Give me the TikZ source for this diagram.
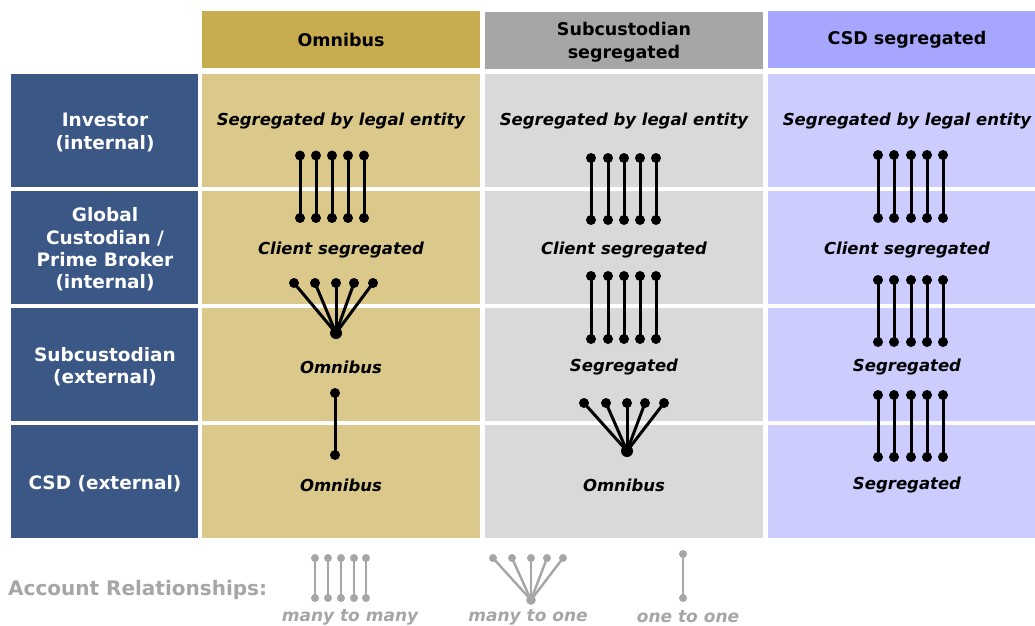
\documentclass[tikz,border=0pt]{standalone}
\usepackage{fontspec}
\setmainfont{DejaVu Sans}
\definecolor{rowblue}{RGB}{58,87,134}
\definecolor{goldH}{RGB}{200,173,80}
\definecolor{goldB}{RGB}{219,201,139}
\definecolor{greyH}{RGB}{166,166,166}
\definecolor{greyB}{RGB}{217,217,217}
\definecolor{violH}{RGB}{166,166,255}
\definecolor{violB}{RGB}{204,204,255}
\definecolor{legendgrey}{RGB}{166,166,166}
\tikzset{
  cell/.style={draw=none, inner sep=0pt, minimum width=278pt, minimum height=113pt, anchor=north west},
  headcell/.style={cell, minimum height=57pt},
  headtext/.style={inner sep=0pt, align=center, font=\fontsize{17.5}{23}\selectfont\bfseries, text=black},
  leftcell/.style={cell, fill=rowblue, minimum width=187pt},
  lefttext/.style={inner sep=0pt, align=center, text=white, font=\fontsize{18.5}{22.3}\selectfont\bfseries},
  rowtext/.style={inner sep=0pt, font=\fontsize{16.5}{20}\selectfont\bfseries\itshape, text=black},
  link/.style={line width=3pt, black},
  dotr/.style={black},
  leglink/.style={line width=2.4pt, legendgrey},
  legtext/.style={inner sep=0pt, font=\fontsize{17}{20}\selectfont\bfseries\itshape, text=legendgrey}
}
\begin{document}
\begin{tikzpicture}[x=1pt,y=-1pt]
\clip (0,0) rectangle (1035,625);
\fill[white] (0,0) rectangle (1035,625);

% header cells
\node[headcell, fill=goldH] (h1) at (202,11) {};
\node[headcell, fill=greyH] (h2) at (485,12) {};
\node[headcell, fill=violH] (h3) at (768,11) {};
\node[headtext] (h1t) at (341,40) {Omnibus};
\node[headtext] (h2t) at (624,42) {Subcustodian\\segregated};
\node[headtext] (h3t) at (907,40) {CSD segregated};

% left labels
\node[leftcell] (l1) at (11,74) {};
\node[leftcell] (l2) at (11,191) {};
\node[leftcell] (l3) at (11,308) {};
\node[leftcell] (l4) at (11,425) {};
\node[lefttext] (l1t) at (105,132.5) {Investor\\(internal)};
\node[lefttext] (l2t) at (105,249.5) {Global\\Custodian /\\Prime Broker\\(internal)};
\node[lefttext] (l3t) at (105,366.5) {Subcustodian\\(external)};
\node[lefttext] (l4t) at (105,484) {CSD (external)};

% body cells
\foreach \r/\y in {1/74,2/191,3/308,4/425}{
  \node[cell, fill=goldB] (a\r) at (202,\y) {};
  \node[cell, fill=greyB] (b\r) at (485,\y) {};
  \node[cell, fill=violB] (c\r) at (768,\y) {};
}

% row texts
\node[rowtext] (ta1) at (341,121.5) {Segregated by legal entity};
\node[rowtext] (tb1) at (624,121.5) {Segregated by legal entity};
\node[rowtext] (tc1) at (907,121.5) {Segregated by legal entity};
\node[rowtext] (ta2) at (341,250) {Client segregated};
\node[rowtext] (tb2) at (624,250) {Client segregated};
\node[rowtext] (tc2) at (907,250) {Client segregated};
\node[rowtext] (ta3) at (341,367) {Omnibus};
\node[rowtext] (tb3) at (624,367) {Segregated};
\node[rowtext] (tc3) at (907,367) {Segregated};
\node[rowtext] (ta4) at (341,485) {Omnibus};
\node[rowtext] (tb4) at (624,485) {Omnibus};
\node[rowtext] (tc4) at (907,485) {Segregated};

% column 1: many to many
\foreach \x [count=\i] in {300,316,332,348,364}{
  \coordinate (a1t\i) at (\x,155.5);
  \coordinate (a1b\i) at (\x,218);
  \draw[link] (a1t\i) -- (a1b\i);
  \fill[dotr] (a1t\i) circle (5pt) (a1b\i) circle (5pt);
}
% column 1: many to one
\coordinate (a2h) at (336,333);
\foreach \x [count=\i] in {294,315,336,354,373}{
  \coordinate (a2t\i) at (\x,283);
  \draw[link] (a2t\i) -- (a2h);
  \fill[dotr] (a2t\i) circle (5pt);
}
\fill[dotr] (a2h) circle (6pt);
% column 1: one to one
\coordinate (a3t) at (335,393);
\coordinate (a3b) at (335,455);
\draw[link] (a3t) -- (a3b);
\fill[dotr] (a3t) circle (5pt) (a3b) circle (5pt);

% column 2: many to many (two)
\foreach \x [count=\i] in {591,608,624,640,656}{
  \coordinate (b1t\i) at (\x,158);
  \coordinate (b1b\i) at (\x,220);
  \coordinate (b2t\i) at (\x,276);
  \coordinate (b2b\i) at (\x,339);
  \draw[link] (b1t\i) -- (b1b\i);
  \draw[link] (b2t\i) -- (b2b\i);
  \fill[dotr] (b1t\i) circle (5pt) (b1b\i) circle (5pt)
              (b2t\i) circle (5pt) (b2b\i) circle (5pt);
}
% column 2: many to one
\coordinate (b3h) at (627,451);
\foreach \x [count=\i] in {584,606,627,645,664}{
  \coordinate (b3t\i) at (\x,403);
  \draw[link] (b3t\i) -- (b3h);
  \fill[dotr] (b3t\i) circle (5pt);
}
\fill[dotr] (b3h) circle (6pt);

% column 3: many to many (three)
\foreach \x [count=\i] in {878,894,911,927,943}{
  \coordinate (c1t\i) at (\x,155);
  \coordinate (c1b\i) at (\x,218);
  \coordinate (c2t\i) at (\x,280);
  \coordinate (c2b\i) at (\x,342);
  \coordinate (c3t\i) at (\x,395);
  \coordinate (c3b\i) at (\x,457);
  \draw[link] (c1t\i) -- (c1b\i);
  \draw[link] (c2t\i) -- (c2b\i);
  \draw[link] (c3t\i) -- (c3b\i);
  \fill[dotr] (c1t\i) circle (5pt) (c1b\i) circle (5pt)
              (c2t\i) circle (5pt) (c2b\i) circle (5pt)
              (c3t\i) circle (5pt) (c3b\i) circle (5pt);
}

% legend
\node[inner sep=0pt, anchor=west, text=legendgrey, font=\fontsize{20}{24}\selectfont\bfseries] (leg) at (8,590) {Account Relationships:};
\foreach \x [count=\i] in {315,328,341,354,366}{
  \coordinate (lmt\i) at (\x,558);
  \coordinate (lmb\i) at (\x,598);
  \draw[leglink] (lmt\i) -- (lmb\i);
  \fill[legendgrey] (lmt\i) circle (4pt) (lmb\i) circle (4pt);
}
\coordinate (loh) at (531,600);
\foreach \x [count=\i] in {493,512,531,547,563}{
  \coordinate (lot\i) at (\x,558);
  \draw[leglink] (lot\i) -- (loh);
  \fill[legendgrey] (lot\i) circle (4pt);
}
\fill[legendgrey] (loh) circle (4.8pt);
\coordinate (l11t) at (683,554);
\coordinate (l11b) at (683,598);
\draw[leglink] (l11t) -- (l11b);
\fill[legendgrey] (l11t) circle (4pt) (l11b) circle (4pt);
\node[legtext] (lmm) at (350,617) {many to many};
\node[legtext] (lmo) at (528,617) {many to one};
\node[legtext] (loo) at (688,617) {one to one};
\end{tikzpicture}
\end{document}
